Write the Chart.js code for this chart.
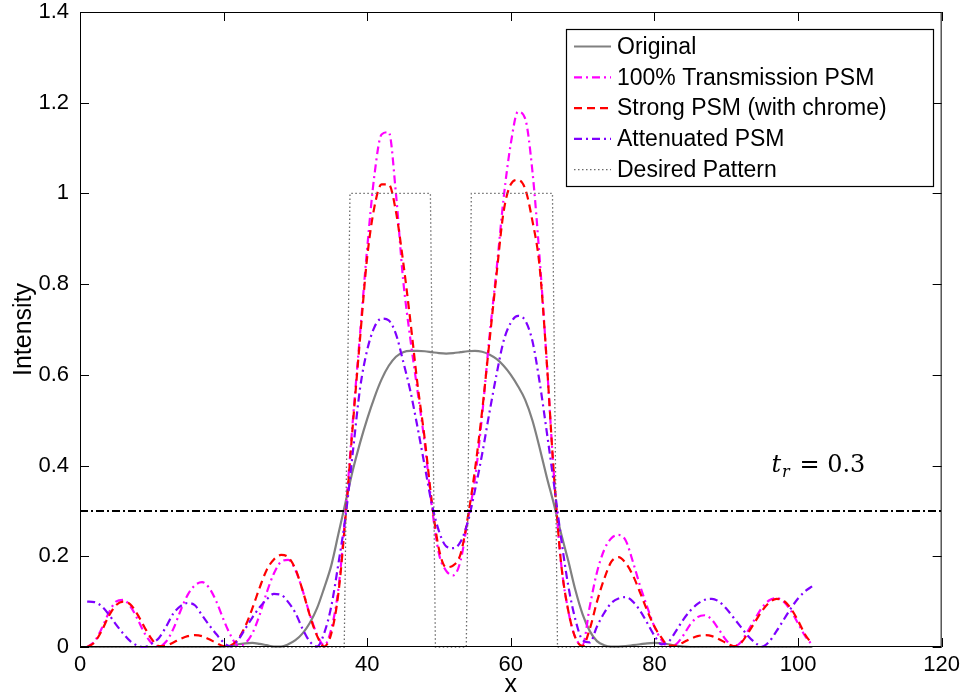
<!DOCTYPE html>
<html>
<head>
<meta charset="utf-8">
<title>Intensity profiles</title>
<script src="https://cdn.jsdelivr.net/npm/chart.js@4.4.1/dist/chart.umd.min.js"></script>
<style>
  html, body { margin: 0; padding: 0; background: #fff; }
  #wrap { width: 965px; height: 700px; position: relative; }
</style>
</head>
<body>
<div id="wrap"><canvas id="c" width="965" height="700"></canvas></div>
<script>
// Sample positions along x
const xs = [
  1, 2, 3, 4, 5, 6, 7, 8, 9, 10,
  11, 12, 13, 14, 15, 16, 17, 18, 19, 20,
  21, 22, 23, 24, 25, 26, 27, 28, 29, 30,
  31, 32, 33, 34, 35, 36, 37, 38, 39, 40,
  41, 42, 43, 44, 45, 46, 47, 48, 49, 50,
  51, 52, 53, 54, 55, 56, 57, 58, 59, 60,
  61, 62, 63, 64, 65, 66, 67, 68, 69, 70,
  71, 72, 73, 74, 75, 76, 77, 78, 79, 80,
  81, 82, 83, 84, 85, 86, 87, 88, 89, 90,
  91, 92, 93, 94, 95, 96, 97, 98, 99, 100,
  101, 102
];

// Aerial image intensity for each mask type
const original = [
  0, 0, 0, 0, 0, 0, 0, 0, 0, 0,
  0, 0, 0, 0, 0, 0, 0, 0, 0, 0.001,
  0.003, 0.006, 0.008, 0.009, 0.007, 0.004, 0.001, 0.001, 0.006, 0.015,
  0.03, 0.053, 0.085, 0.13, 0.18, 0.25, 0.32, 0.39, 0.45, 0.503,
  0.55, 0.59, 0.62, 0.64, 0.65, 0.653, 0.653, 0.652, 0.65, 0.648,
  0.647, 0.648, 0.65, 0.652, 0.653, 0.651, 0.645, 0.635, 0.62, 0.6,
  0.575, 0.545, 0.5, 0.44, 0.375, 0.315, 0.25, 0.19, 0.125, 0.072,
  0.035, 0.013, 0.004, 0.001, 0.001, 0.002, 0.004, 0.006, 0.008, 0.009,
  0.008, 0.006, 0.003, 0.001, 0, 0, 0, 0, 0, 0,
  0, 0, 0, 0, 0, 0, 0, 0, 0, 0,
  0, 0
];

const transmission100 = [
  0, 0.012, 0.04, 0.075, 0.1, 0.104, 0.09, 0.062, 0.03, 0.008,
  0.001, 0.012, 0.04, 0.08, 0.115, 0.136, 0.143, 0.13, 0.1, 0.06,
  0.025, 0.003, 0.008, 0.03, 0.07, 0.12, 0.162, 0.188, 0.192, 0.17,
  0.125, 0.072, 0.028, 0.004, 0.04, 0.13, 0.3, 0.5, 0.69, 0.88,
  1.04, 1.13, 1.135, 1.0, 0.81, 0.68, 0.565, 0.45, 0.31, 0.205,
  0.168, 0.158, 0.19, 0.28, 0.37, 0.51, 0.68, 0.83, 0.99, 1.11,
  1.18, 1.165, 1.05, 0.86, 0.63, 0.38, 0.185, 0.08, 0.02, 0.005,
  0.09, 0.165, 0.214, 0.24, 0.247, 0.235, 0.188, 0.135, 0.088, 0.045,
  0.015, 0.001, 0.006, 0.025, 0.05, 0.066, 0.07, 0.06, 0.038, 0.015,
  0.001, 0.01, 0.035, 0.062, 0.087, 0.103, 0.108, 0.1, 0.08, 0.052,
  0.024, 0.004
];

const strongPsm = [
  0, 0.01, 0.035, 0.068, 0.092, 0.1, 0.094, 0.072, 0.043, 0.017,
  0.002, 0.003, 0.01, 0.018, 0.024, 0.026, 0.024, 0.017, 0.009, 0.002,
  0.004, 0.017, 0.045, 0.085, 0.13, 0.17, 0.193, 0.203, 0.198, 0.172,
  0.125, 0.07, 0.025, 0.001, 0.03, 0.12, 0.29, 0.49, 0.68, 0.86,
  0.97, 1.02, 1.02, 0.96, 0.85, 0.72, 0.58, 0.46, 0.32, 0.215,
  0.176, 0.18, 0.205, 0.285, 0.39, 0.52, 0.67, 0.82, 0.96, 1.02,
  1.03, 1.01, 0.94, 0.84, 0.63, 0.38, 0.185, 0.08, 0.02, 0.002,
  0.04, 0.1, 0.15, 0.188, 0.198, 0.185, 0.158, 0.12, 0.08, 0.045,
  0.02, 0.003, 0.003, 0.01, 0.018, 0.024, 0.026, 0.024, 0.017, 0.009,
  0.002, 0.008, 0.03, 0.055, 0.08, 0.098, 0.106, 0.102, 0.085, 0.058,
  0.027, 0.006
];

const attenuatedPsm = [
  0.1, 0.099, 0.09, 0.072, 0.05, 0.03, 0.013, 0.003, 0, 0.008,
  0.02, 0.045, 0.074, 0.09, 0.097, 0.092, 0.07, 0.048, 0.028, 0.01,
  0.001, 0.015, 0.04, 0.065, 0.087, 0.105, 0.117, 0.115, 0.099, 0.075,
  0.04, 0.012, 0.001, 0.03, 0.09, 0.185, 0.29, 0.43, 0.57, 0.655,
  0.705, 0.724, 0.72, 0.69, 0.63, 0.565, 0.485, 0.4, 0.315, 0.255,
  0.222, 0.218, 0.232, 0.275, 0.345, 0.425, 0.515, 0.6, 0.675, 0.715,
  0.73, 0.72, 0.675, 0.585, 0.475, 0.36, 0.24, 0.135, 0.06, 0.015,
  0.01, 0.045, 0.075, 0.097, 0.107, 0.11, 0.1, 0.08, 0.053, 0.025,
  0.006, 0.012, 0.035, 0.06, 0.08, 0.095, 0.104, 0.106, 0.1, 0.085,
  0.065, 0.045, 0.025, 0.01, 0.001, 0.012, 0.035, 0.06, 0.085, 0.107,
  0.123, 0.134
];

// Target two-line pattern (corners of the dotted outline)
const desiredX = [1, 36.8, 37.6, 48.8, 49.5, 53.8, 54.5, 65.8, 66.5, 102];
const desiredY = [0, 0, 1, 1, 0, 0, 1, 1, 0, 0];

// Resist threshold
const threshold = 0.3;

const xTicks = [0, 20, 40, 60, 80, 100, 120];
const yTicks = [0, 0.2, 0.4, 0.6, 0.8, 1, 1.2, 1.4];

const toPoints = (xv, yv) => yv.map((y, i) => ({ x: xv[i], y }));

const FONT = "'Liberation Sans', Arial, Helvetica, sans-serif";

const curveBase = {
  pointRadius: 0,
  pointHoverRadius: 0,
  borderWidth: 2.2,
  fill: false,
  cubicInterpolationMode: 'monotone',
  clip: false
};

const datasets = [
  Object.assign({}, curveBase, {
    label: 'Original',
    data: toPoints(xs, original),
    borderColor: '#808080',
    order: 5
  }),
  Object.assign({}, curveBase, {
    label: '100% Transmission PSM',
    data: toPoints(xs, transmission100),
    borderColor: '#ff00ff',
    borderDash: [8, 4, 2, 4],
    order: 4
  }),
  Object.assign({}, curveBase, {
    label: 'Strong PSM (with chrome)',
    data: toPoints(xs, strongPsm),
    borderColor: '#ff0000',
    borderDash: [8, 5],
    order: 3
  }),
  Object.assign({}, curveBase, {
    label: 'Attenuated PSM',
    data: toPoints(xs, attenuatedPsm),
    borderColor: '#7f00ff',
    borderDash: [8, 4, 2, 4],
    order: 2
  }),
  Object.assign({}, curveBase, {
    label: 'Desired Pattern',
    data: toPoints(desiredX, desiredY),
    borderColor: '#6a6a6a',
    borderWidth: 1.3,
    borderDash: [1.5, 2.5],
    cubicInterpolationMode: 'default',
    tension: 0,
    order: 1
  }),
  {
    label: 'threshold',
    data: [{ x: 0, y: threshold }, { x: 120, y: threshold }],
    borderColor: '#000000',
    borderWidth: 2,
    borderDash: [8, 3, 2, 3],
    pointRadius: 0,
    tension: 0,
    fill: false,
    order: 0,
    inLegend: false
  }
];

// Box around the axes, inward tick marks, threshold label and legend
const decorations = {
  id: 'decorations',
  afterDatasetsDraw(chart) {
    const { ctx, chartArea: a, scales: { x, y } } = chart;
    const tick = 9;
    ctx.save();
    ctx.strokeStyle = '#000';
    ctx.lineWidth = 1;
    ctx.setLineDash([]);
    ctx.strokeRect(a.left + 0.5, a.top + 0.5, a.right - a.left - 1, a.bottom - a.top - 1);
    ctx.beginPath();
    xTicks.forEach(v => {
      const px = Math.round(x.getPixelForValue(v)) + 0.5;
      ctx.moveTo(px, a.bottom); ctx.lineTo(px, a.bottom - tick);
      ctx.moveTo(px, a.top); ctx.lineTo(px, a.top + tick);
    });
    yTicks.forEach(v => {
      const py = Math.round(y.getPixelForValue(v)) + 0.5;
      ctx.moveTo(a.left, py); ctx.lineTo(a.left + tick, py);
      ctx.moveTo(a.right, py); ctx.lineTo(a.right - tick, py);
    });
    ctx.stroke();
    ctx.restore();
  },
  afterDraw(chart) {
    const { ctx, scales: { x, y } } = chart;
    ctx.save();

    // t_r = 0.3 label
    const lx = x.getPixelForValue(96.3);
    const ly = y.getPixelForValue(0.385);
    ctx.fillStyle = '#000';
    ctx.textBaseline = 'alphabetic';
    ctx.textAlign = 'left';
    ctx.font = "italic 24px 'DejaVu Serif', 'Liberation Serif', serif";
    ctx.fillText('t', lx, ly);
    let w = ctx.measureText('t').width;
    ctx.font = "italic 16px 'DejaVu Serif', 'Liberation Serif', serif";
    ctx.fillText('r', lx + w + 1, ly + 5);
    w += ctx.measureText('r').width + 1;
    ctx.font = "24px 'DejaVu Serif', 'Liberation Serif', serif";
    ctx.fillText(' = ' + threshold, lx + w + 2, ly);

    // legend
    const box = { left: 566, top: 29, right: 933, bottom: 186 };
    ctx.fillStyle = '#fff';
    ctx.fillRect(box.left, box.top, box.right - box.left, box.bottom - box.top);
    ctx.strokeStyle = '#000';
    ctx.lineWidth = 1.2;
    ctx.setLineDash([]);
    ctx.strokeRect(box.left + 0.5, box.top + 0.5, box.right - box.left, box.bottom - box.top);
    const items = chart.data.datasets.filter(d => d.inLegend !== false);
    ctx.font = '23px ' + FONT;
    ctx.textBaseline = 'middle';
    items.forEach((d, i) => {
      const cy = 46.5 + i * 30.8;
      ctx.strokeStyle = d.borderColor;
      ctx.lineWidth = d.borderWidth;
      ctx.setLineDash(d.borderDash || []);
      ctx.beginPath();
      ctx.moveTo(574, cy);
      ctx.lineTo(611, cy);
      ctx.stroke();
      ctx.fillStyle = '#000';
      ctx.fillText(d.label, 617, cy + 1);
    });
    ctx.restore();
  }
};

new Chart(document.getElementById('c'), {
  type: 'line',
  data: { datasets },
  options: {
    responsive: false,
    animation: false,
    events: [],
    layout: { padding: { top: 0, right: 20, left: 0, bottom: 0 } },
    plugins: { legend: { display: false }, tooltip: { enabled: false } },
    scales: {
      x: {
        type: 'linear',
        min: 0,
        max: 120,
        afterBuildTicks: s => { s.ticks = xTicks.map(v => ({ value: v })); },
        ticks: {
          color: '#000',
          font: { family: FONT, size: 22 },
          padding: 5,
          maxRotation: 0,
          callback: v => String(v)
        },
        grid: { display: false, drawTicks: false },
        border: { display: false },
        title: {
          display: true,
          text: 'x',
          color: '#000',
          font: { family: FONT, size: 25 },
          padding: { top: 0, bottom: 0 }
        },
        afterFit: s => { s.height = 53; }
      },
      y: {
        type: 'linear',
        min: 0,
        max: 1.4,
        afterBuildTicks: s => { s.ticks = yTicks.map(v => ({ value: v })); },
        ticks: {
          color: '#000',
          font: { family: FONT, size: 22 },
          padding: 11,
          callback: v => String(Math.round(v * 10) / 10)
        },
        grid: { display: false, drawTicks: false },
        border: { display: false },
        title: {
          display: true,
          text: 'Intensity',
          color: '#000',
          font: { family: FONT, size: 25 },
          padding: { top: 9, bottom: 0 }
        },
        afterFit: s => { s.width = 80; s.paddingTop = 12; s.paddingBottom = 0; }
      }
    }
  },
  plugins: [decorations]
});
</script>
</body>
</html>
